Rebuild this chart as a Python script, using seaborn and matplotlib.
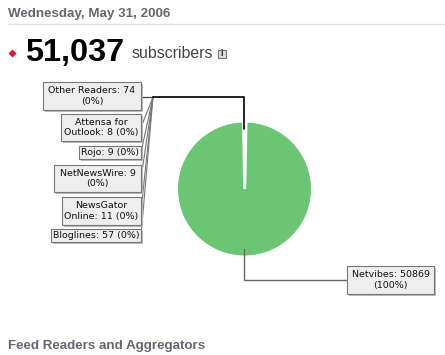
import matplotlib
matplotlib.use("Agg")
import matplotlib.pyplot as plt
import seaborn as sns
from matplotlib.patches import Rectangle, Polygon

sns.set_theme(style="white")
plt.rcParams['font.family'] = ['DejaVu Sans']

readers = ["Netvibes", "Bloglines", "NewsGator\nOnline", "NetNewsWire", "Rojo", "Attensa for\nOutlook", "Other Readers"]
counts = [50869, 57, 11, 9, 9, 8, 74]
label_lines = ["Netvibes: 50869\n(100%)", "Bloglines: 57 (0%)", "NewsGator\nOnline: 11 (0%)",
               "NetNewsWire: 9\n(0%)", "Rojo: 9 (0%)", "Attensa for\nOutlook: 8 (0%)", "Other Readers: 74\n(0%)"]
boxes = [(347, 266, 434, 294), (51, 229, 141, 242), (62, 197, 141, 225),
         (54, 165, 141, 192), (79, 146, 141, 159), (61, 114, 141, 141), (43, 82, 141, 110)]
date_text = "Wednesday, May 31, 2006"
total_text = "51,037"
unit_text = "subscribers"
section_text = "Feed Readers and Aggregators"

W, H = 445, 355
fig = plt.figure(figsize=(W / 100, H / 100), dpi=100, facecolor="white")

# Overlay in pixel space
ov = fig.add_axes([0, 0, 1, 1], zorder=3)
ov.set_xlim(0, W); ov.set_ylim(H, 0); ov.axis("off"); ov.patch.set_alpha(0)

# Pie
cx, cy, r = 244.5, 189, 66.5
pa = fig.add_axes([(cx - r) / W, 1 - (cy + r) / H, 2 * r / W, 2 * r / H], zorder=1)
colors = sns.color_palette(["#6AC672"], n_colors=1) * len(counts)
pa.pie(counts, startangle=90, counterclock=False, colors=colors, radius=1.0,
       wedgeprops=dict(linewidth=0))
pa.set_xlim(-1, 1); pa.set_ylim(-1, 1)
# white gap of the tiny slices
ov.add_patch(Polygon([(242, 122), (247.5, 122), (246.2, 189), (243.2, 189)], closed=True, fc="white", ec="none", zorder=1))

# Header
ov.text(8, 14.5, date_text, fontsize=9.6, fontweight="bold", color="#666670", family="Liberation Sans", va="center", ha="left")
ov.plot([8, 445], [24, 24], color="#e2e2e2", lw=1, solid_capstyle="butt")
ov.plot([11.5], [52.5], marker="D", ms=3.6, color="#ee1133", mec="none")
ov.text(25, 53, total_text, fontsize=23.4, fontweight="bold", color="black", family="Liberation Sans", va="center", ha="left")
ov.text(132, 53, unit_text, fontsize=11.4, color="#444444", family="Liberation Sans", va="center", ha="left")
ov.add_patch(Rectangle((218, 49.5), 8, 8, fc="#dddddd", ec="#777777", lw=0.8))
ov.text(222, 53.7, "i", fontsize=5.5, color="#333333", fontweight="bold", ha="center", va="center")
ov.text(8, 346, section_text, fontsize=9.65, fontweight="bold", color="#666670", family="Liberation Sans", va="center", ha="left")

# Leader lines
ov.plot([244, 244, 347], [249, 280, 280], color="#666666", lw=1, solid_joinstyle="miter")
ys_small = [(b[1] + b[3]) / 2 for b in boxes[1:]]
for y in ys_small[:-1]:
    ov.plot([141, 153], [y, 97], color="#777777", lw=0.8)
ov.plot([141, 153], [96.5, 96.5], color="#444444", lw=0.9)
ov.plot([153, 243.5, 243.5], [96.5, 96.5, 129], color="black", lw=1.2, solid_joinstyle="miter")

# Label boxes
for (x0, y0, x1, y1), txt in zip(boxes, label_lines):
    ov.add_patch(Rectangle((x0 + 2, y0 + 2), x1 - x0, y1 - y0, fc="#bbbbbb", ec="none", zorder=4))
    ov.add_patch(Rectangle((x0, y0), x1 - x0, y1 - y0, fc="#eeeeee", ec="#777777", lw=0.8, zorder=5))
    ov.text((x0 + x1) / 2, (y0 + y1) / 2, txt, fontsize=6.8, color="#111111", ha="center", va="center",
            linespacing=1.2, zorder=6)

fig.savefig("out.png", dpi=100, facecolor="white")
